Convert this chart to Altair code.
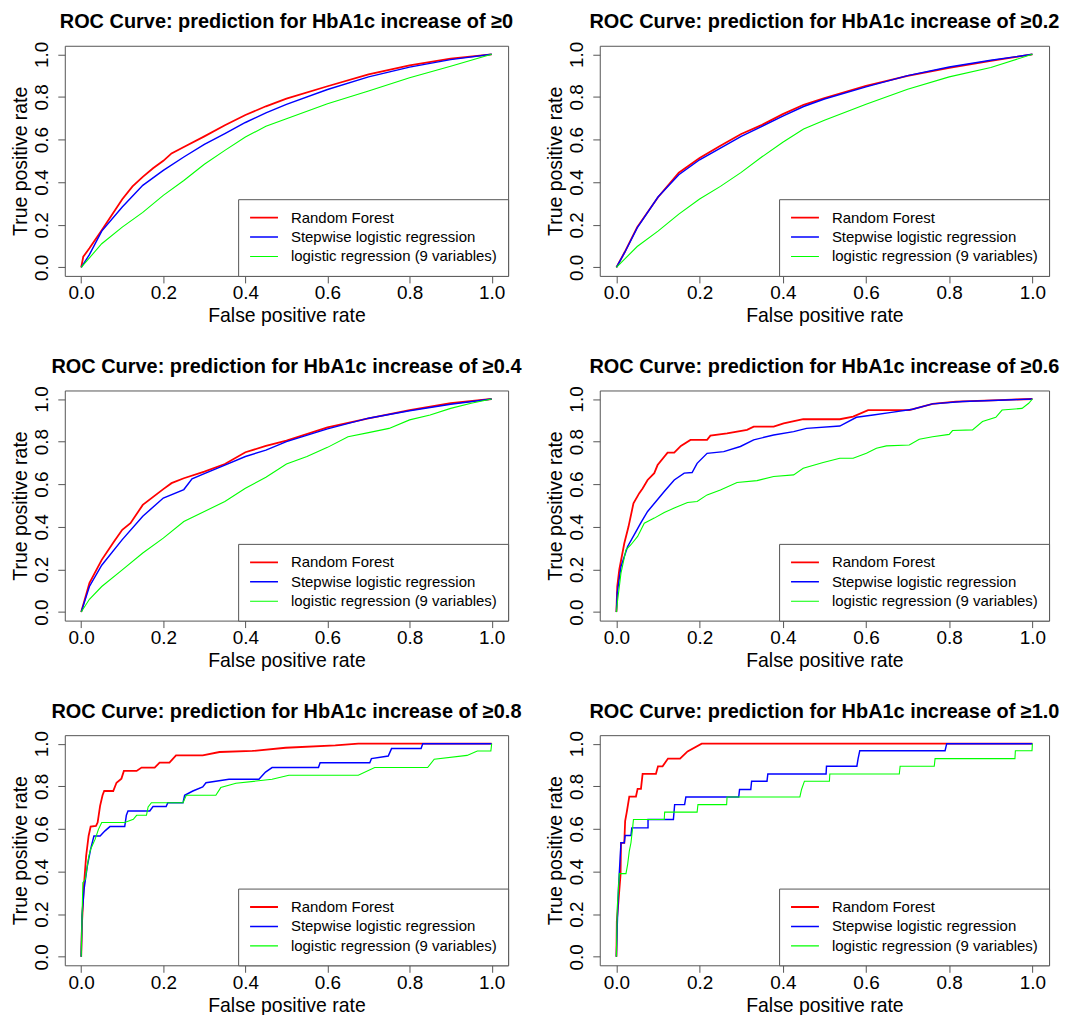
import altair as alt
import pandas as pd

MODELS = ["Random Forest", "Stepwise logistic regression", "logistic regression (9 variables)"]
COLORS = ["#FF0000", "#0000FF", "#00FF00"]
LINE_WIDTHS = [1.8, 1.1, 1.1]
THRESHOLDS = ["0", "0.2", "0.4", "0.6", "0.8", "1.0"]
TICKS = [0.0, 0.2, 0.4, 0.6, 0.8, 1.0]

# ---- panel >=0 ----
P0_RF_FPR = [0, 0.005, 0.02, 0.05, 0.1, 0.125, 0.15, 0.175, 0.2, 0.22, 0.25, 0.3, 0.35, 0.4, 0.45, 0.5, 0.6, 0.7, 0.8, 0.9, 1.0]
P0_RF_TPR = [0, 0.05, 0.09, 0.174, 0.32, 0.38, 0.425, 0.465, 0.5, 0.535, 0.565, 0.615, 0.667, 0.715, 0.756, 0.792, 0.85, 0.906, 0.948, 0.98, 1.0]
P0_SW_FPR = [0, 0.02, 0.05, 0.1, 0.15, 0.2, 0.25, 0.3, 0.35, 0.4, 0.45, 0.5, 0.6, 0.7, 0.8, 0.9, 1.0]
P0_SW_TPR = [0, 0.06, 0.17, 0.283, 0.385, 0.455, 0.518, 0.577, 0.628, 0.68, 0.725, 0.765, 0.835, 0.894, 0.94, 0.975, 1.0]
P0_LR_FPR = [0, 0.05, 0.1, 0.15, 0.2, 0.25, 0.3, 0.35, 0.4, 0.45, 0.5, 0.6, 0.7, 0.8, 0.9, 1.0]
P0_LR_TPR = [0, 0.111, 0.189, 0.258, 0.338, 0.408, 0.484, 0.549, 0.612, 0.662, 0.698, 0.768, 0.828, 0.89, 0.944, 1.0]

# ---- panel >=0.2 ----
P1_RF_FPR = [0, 0.02, 0.05, 0.1, 0.15, 0.2, 0.25, 0.3, 0.35, 0.4, 0.45, 0.5, 0.6, 0.7, 0.8, 0.9, 1.0]
P1_RF_TPR = [0, 0.072, 0.189, 0.329, 0.444, 0.513, 0.571, 0.626, 0.669, 0.719, 0.763, 0.794, 0.852, 0.899, 0.936, 0.969, 1.0]
P1_SW_FPR = [0, 0.02, 0.05, 0.1, 0.15, 0.2, 0.25, 0.3, 0.35, 0.4, 0.45, 0.5, 0.6, 0.7, 0.8, 0.9, 1.0]
P1_SW_TPR = [0, 0.07, 0.185, 0.33, 0.435, 0.505, 0.56, 0.615, 0.662, 0.71, 0.755, 0.79, 0.847, 0.9, 0.94, 0.972, 1.0]
P1_LR_FPR = [0, 0.05, 0.1, 0.15, 0.2, 0.25, 0.3, 0.35, 0.4, 0.45, 0.5, 0.6, 0.7, 0.8, 0.9, 1.0]
P1_LR_TPR = [0, 0.098, 0.17, 0.25, 0.321, 0.38, 0.446, 0.519, 0.587, 0.649, 0.691, 0.766, 0.836, 0.894, 0.938, 1.0]

# ---- panel >=0.4 ----
P2_RF_FPR = [0, 0.02, 0.05, 0.08, 0.1, 0.12, 0.15, 0.2, 0.22, 0.25, 0.3, 0.35, 0.4, 0.45, 0.5, 0.6, 0.7, 0.8, 0.9, 1.0]
P2_RF_TPR = [0, 0.136, 0.245, 0.331, 0.386, 0.417, 0.503, 0.577, 0.605, 0.628, 0.659, 0.695, 0.75, 0.78, 0.805, 0.867, 0.909, 0.948, 0.98, 1.0]
P2_SW_FPR = [0, 0.02, 0.05, 0.1, 0.15, 0.2, 0.25, 0.27, 0.3, 0.35, 0.4, 0.45, 0.5, 0.6, 0.7, 0.8, 0.9, 1.0]
P2_SW_TPR = [0, 0.12, 0.22, 0.34, 0.45, 0.535, 0.575, 0.625, 0.65, 0.69, 0.73, 0.76, 0.8, 0.86, 0.91, 0.945, 0.975, 1.0]
P2_LR_FPR = [0, 0.02, 0.05, 0.1, 0.15, 0.2, 0.25, 0.3, 0.35, 0.4, 0.45, 0.5, 0.55, 0.6, 0.65, 0.7, 0.75, 0.8, 0.85, 0.9, 0.95, 1.0]
P2_LR_TPR = [0, 0.06, 0.12, 0.198, 0.277, 0.347, 0.425, 0.472, 0.519, 0.581, 0.633, 0.695, 0.73, 0.773, 0.823, 0.842, 0.862, 0.902, 0.925, 0.956, 0.98, 1.0]

# ---- panel >=0.6 ----
P3_RF_FPR = [0, 0.002, 0.007, 0.019, 0.029, 0.041, 0.055, 0.063, 0.075, 0.091, 0.099, 0.123, 0.139, 0.155, 0.178, 0.218, 0.226, 0.266, 0.314, 0.33, 0.378, 0.402, 0.449, 0.537, 0.569, 0.605, 0.704, 0.76, 0.816, 0.92, 1.0]
P3_RF_TPR = [0, 0.12, 0.2, 0.323, 0.4, 0.51, 0.558, 0.58, 0.62, 0.652, 0.69, 0.748, 0.748, 0.78, 0.808, 0.808, 0.828, 0.839, 0.855, 0.87, 0.87, 0.886, 0.905, 0.905, 0.917, 0.948, 0.948, 0.977, 0.988, 0.995, 1.0]
P3_SW_FPR = [0, 0.002, 0.011, 0.027, 0.047, 0.059, 0.075, 0.095, 0.115, 0.139, 0.163, 0.182, 0.194, 0.218, 0.258, 0.298, 0.33, 0.378, 0.426, 0.457, 0.537, 0.577, 0.617, 0.657, 0.712, 0.76, 0.832, 0.935, 1.0]
P3_SW_TPR = [0, 0.09, 0.214, 0.308, 0.378, 0.42, 0.472, 0.519, 0.566, 0.62, 0.652, 0.655, 0.698, 0.745, 0.753, 0.777, 0.808, 0.831, 0.847, 0.862, 0.873, 0.914, 0.925, 0.936, 0.952, 0.977, 0.988, 0.995, 1.0]
P3_LR_FPR = [0, 0.002, 0.011, 0.023, 0.035, 0.051, 0.067, 0.091, 0.115, 0.139, 0.171, 0.194, 0.218, 0.25, 0.29, 0.338, 0.378, 0.426, 0.449, 0.497, 0.537, 0.569, 0.601, 0.625, 0.649, 0.704, 0.728, 0.76, 0.8, 0.808, 0.856, 0.88, 0.912, 0.927, 0.975, 0.991, 1.0]
P3_LR_TPR = [0, 0.04, 0.183, 0.292, 0.316, 0.355, 0.417, 0.441, 0.467, 0.488, 0.514, 0.519, 0.55, 0.573, 0.608, 0.617, 0.636, 0.644, 0.675, 0.702, 0.722, 0.722, 0.745, 0.769, 0.78, 0.784, 0.811, 0.823, 0.834, 0.852, 0.855, 0.894, 0.914, 0.948, 0.956, 0.98, 1.0]

# ---- panel >=0.8 ----
P4_RF_FPR = [0, 0.002, 0.006, 0.012, 0.018, 0.023, 0.036, 0.04, 0.046, 0.052, 0.056, 0.078, 0.086, 0.098, 0.104, 0.135, 0.147, 0.179, 0.191, 0.215, 0.231, 0.296, 0.337, 0.417, 0.498, 0.619, 0.675, 1.0]
P4_RF_TPR = [0, 0.16, 0.317, 0.473, 0.567, 0.611, 0.614, 0.63, 0.708, 0.758, 0.778, 0.778, 0.817, 0.836, 0.872, 0.872, 0.888, 0.888, 0.911, 0.911, 0.945, 0.945, 0.961, 0.966, 0.981, 0.992, 1.0, 1.0]
P4_SW_FPR = [0, 0.002, 0.007, 0.015, 0.023, 0.031, 0.046, 0.058, 0.07, 0.106, 0.11, 0.114, 0.167, 0.175, 0.207, 0.211, 0.248, 0.252, 0.272, 0.296, 0.304, 0.36, 0.433, 0.449, 0.465, 0.578, 0.582, 0.703, 0.707, 0.748, 0.756, 0.828, 0.832, 1.0]
P4_SW_TPR = [0, 0.192, 0.317, 0.427, 0.505, 0.567, 0.567, 0.591, 0.611, 0.611, 0.664, 0.684, 0.684, 0.705, 0.705, 0.723, 0.723, 0.758, 0.778, 0.797, 0.817, 0.833, 0.833, 0.867, 0.888, 0.888, 0.911, 0.911, 0.93, 0.942, 0.977, 0.977, 1.0, 1.0]
P4_LR_FPR = [0, 0.001, 0.004, 0.01, 0.018, 0.023, 0.034, 0.042, 0.05, 0.106, 0.127, 0.135, 0.159, 0.163, 0.171, 0.248, 0.256, 0.328, 0.34, 0.377, 0.465, 0.506, 0.675, 0.715, 0.844, 0.86, 0.94, 0.965, 0.998, 1.0]
P4_LR_TPR = [0, 0.098, 0.348, 0.364, 0.466, 0.505, 0.552, 0.598, 0.63, 0.63, 0.645, 0.664, 0.664, 0.703, 0.723, 0.723, 0.758, 0.758, 0.794, 0.814, 0.833, 0.852, 0.852, 0.888, 0.888, 0.927, 0.945, 0.966, 0.966, 1.0]

# ---- panel >=1.0 ----
P5_RF_FPR = [0, 0.001, 0.005, 0.01, 0.011, 0.019, 0.021, 0.025, 0.031, 0.047, 0.051, 0.059, 0.063, 0.095, 0.1, 0.111, 0.124, 0.153, 0.171, 0.205, 1.0]
P5_RF_TPR = [0, 0.168, 0.262, 0.387, 0.535, 0.535, 0.637, 0.68, 0.752, 0.752, 0.788, 0.788, 0.858, 0.858, 0.894, 0.894, 0.93, 0.93, 0.964, 1.0, 1.0]
P5_SW_FPR = [0, 0.002, 0.005, 0.009, 0.011, 0.019, 0.021, 0.035, 0.037, 0.076, 0.076, 0.137, 0.14, 0.164, 0.167, 0.294, 0.296, 0.323, 0.325, 0.362, 0.364, 0.504, 0.505, 0.578, 0.581, 0.585, 0.79, 0.794, 1.0]
P5_SW_TPR = [0, 0.145, 0.324, 0.465, 0.535, 0.535, 0.569, 0.569, 0.605, 0.605, 0.644, 0.644, 0.714, 0.714, 0.75, 0.75, 0.785, 0.785, 0.824, 0.824, 0.858, 0.858, 0.894, 0.894, 0.93, 0.967, 0.967, 1.0, 1.0]
P5_LR_FPR = [0, 0.002, 0.005, 0.007, 0.023, 0.027, 0.031, 0.035, 0.039, 0.041, 0.115, 0.116, 0.194, 0.196, 0.265, 0.266, 0.441, 0.445, 0.452, 0.512, 0.513, 0.68, 0.682, 0.764, 0.766, 0.958, 0.959, 0.999, 1.0]
P5_LR_TPR = [0, 0.231, 0.324, 0.39, 0.39, 0.434, 0.496, 0.535, 0.605, 0.644, 0.644, 0.679, 0.679, 0.714, 0.714, 0.75, 0.75, 0.785, 0.824, 0.824, 0.858, 0.858, 0.894, 0.894, 0.93, 0.93, 0.967, 0.967, 1.0]

PANELS = [
    (P0_RF_FPR, P0_RF_TPR, P0_SW_FPR, P0_SW_TPR, P0_LR_FPR, P0_LR_TPR),
    (P1_RF_FPR, P1_RF_TPR, P1_SW_FPR, P1_SW_TPR, P1_LR_FPR, P1_LR_TPR),
    (P2_RF_FPR, P2_RF_TPR, P2_SW_FPR, P2_SW_TPR, P2_LR_FPR, P2_LR_TPR),
    (P3_RF_FPR, P3_RF_TPR, P3_SW_FPR, P3_SW_TPR, P3_LR_FPR, P3_LR_TPR),
    (P4_RF_FPR, P4_RF_TPR, P4_SW_FPR, P4_SW_TPR, P4_LR_FPR, P4_LR_TPR),
    (P5_RF_FPR, P5_RF_TPR, P5_SW_FPR, P5_SW_TPR, P5_LR_FPR, P5_LR_TPR),
]

FONT = "Liberation Sans"
DOM = [-0.04, 1.04]


def panel_chart(k):
    arrs = PANELS[k]
    rows = []
    for m, model in enumerate(MODELS):
        xs, ys = arrs[2 * m], arrs[2 * m + 1]
        for i, (a, b) in enumerate(zip(xs, ys)):
            rows.append({"model": model, "fpr": a, "tpr": b, "i": i, "m": m})
    df = pd.DataFrame(rows)
    w = 445 if k % 2 == 0 else 451
    return (
        alt.Chart(df)
        .mark_line(clip=True)
        .encode(
            x=alt.X("fpr:Q", scale=alt.Scale(domain=DOM, nice=False, zero=False),
                    axis=alt.Axis(values=TICKS, format=".1f", title="False positive rate")),
            y=alt.Y("tpr:Q", scale=alt.Scale(domain=DOM, nice=False, zero=False),
                    axis=alt.Axis(values=TICKS, format=".1f", title="True positive rate",
                                  labelAngle=270, labelAlign="center", labelBaseline="bottom",
                                  labelPadding=6, titlePadding=2)),
            color=alt.Color("model:N", scale=alt.Scale(domain=MODELS, range=COLORS),
                            legend=alt.Legend(title=None)),
            strokeWidth=alt.StrokeWidth("model:N", scale=alt.Scale(domain=MODELS, range=LINE_WIDTHS),
                                        legend=None),
            order="i:Q",
        )
        .properties(width=w, height=231,
                    title=f"ROC Curve: prediction for HbA1c increase of \u2265{THRESHOLDS[k]}")
    )


chart = (
    alt.concat(*[panel_chart(k) for k in range(6)], columns=2,
               spacing={"row": 115, "column": 92}, bounds="flush", align="each")
    .resolve_scale(color="independent", strokeWidth="independent")
    .resolve_legend(color="independent")
    .properties(padding={"left": 2, "top": 1, "right": 5, "bottom": 5})
    .configure(background="white")
    .configure_view(stroke="#555555", strokeWidth=1)
    .configure_axis(domain=False, grid=False, tickColor="#555555", tickSize=7, tickWidth=1,
                    labelFont=FONT, labelFontSize=19, labelColor="black", labelPadding=1,
                    titleFont=FONT, titleFontSize=19.5, titleFontWeight="normal", titleColor="black",
                    titlePadding=4)
    .configure_title(font=FONT, fontSize=20, fontWeight="bold", color="black", anchor="middle",
                     frame="group", baseline="alphabetic", offset=9)
    .configure_legend(orient="bottom-right", offset=0, strokeColor="#555555", fillColor="white",
                      padding=11, symbolType="stroke", symbolSize=784, symbolStrokeWidth=2.5,
                      labelFont=FONT, labelFontSize=15, labelColor="black", labelOffset=12,
                      labelLimit=0, clipHeight=15, rowPadding=3.5, cornerRadius=0)
)

chart.save("out.html", embed_options={"renderer": "svg", "actions": False})
